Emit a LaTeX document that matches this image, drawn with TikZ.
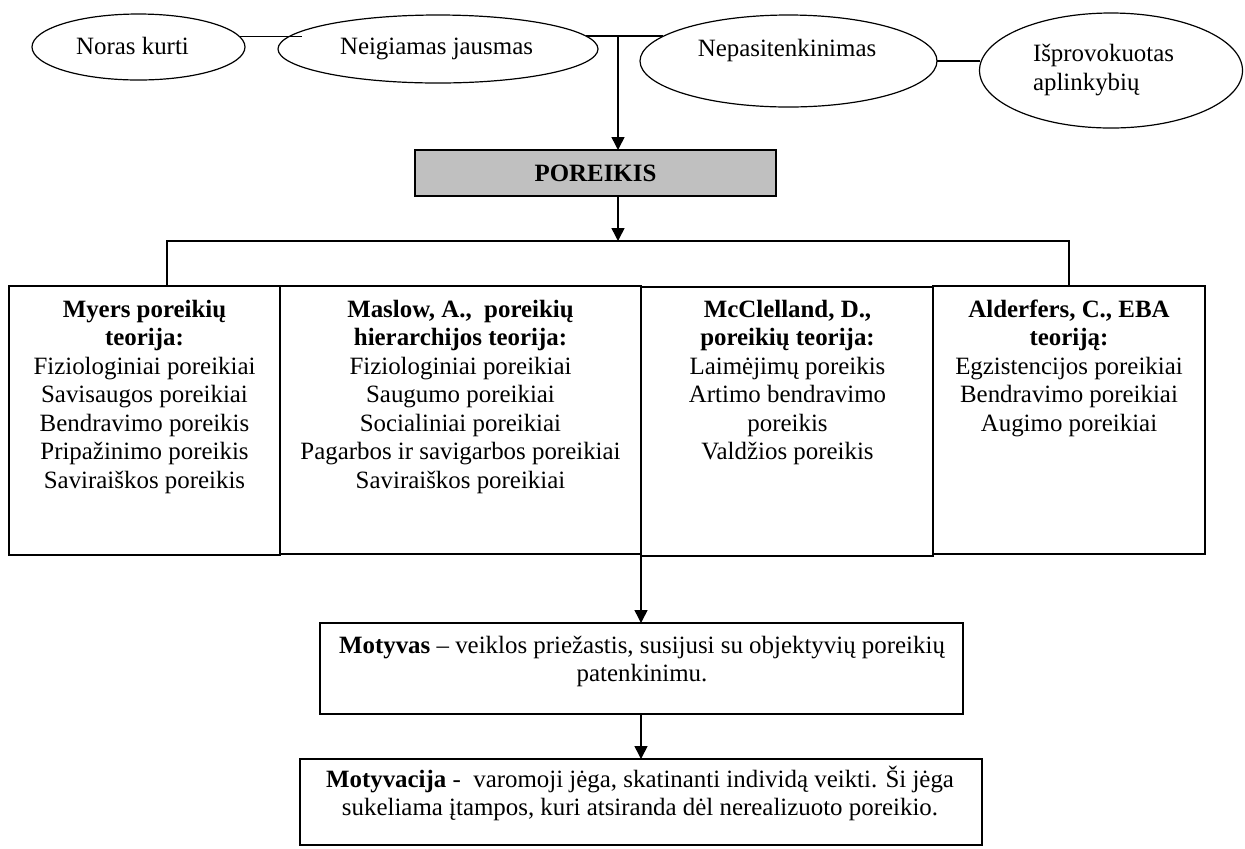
\documentclass[tikz,border=0pt]{standalone}
\usepackage{fontspec}
\setmainfont{Liberation Serif}
\usetikzlibrary{shapes.geometric,arrows.meta}
\definecolor{boxgray}{HTML}{C0C0C0}
\begin{document}
\begin{tikzpicture}[x=0.5pt,y=-0.5pt,
  every node/.style={font=\fontsize{12.45}{14.25}\selectfont, inner sep=0pt, outer sep=0pt},
  ell/.style={draw, ellipse, line width=0.6pt},
  frame/.style={draw, rectangle, line width=0.75pt},
  lbl/.style={align=center, anchor=north},
  conn/.style={line width=0.75pt},
  arr/.style={conn, -{Triangle[length=6.5pt,width=6.5pt]}}]
\useasboundingbox (0,0) rectangle (1245,848);

% ellipses
\node[ell, minimum width=106.5pt, minimum height=33pt] (E1) at (138.5,47) {};
\node[ell, minimum width=160pt, minimum height=34pt] (E2) at (438,49) {};
\node[ell, minimum width=148.5pt, minimum height=46pt] (E3) at (788.5,61) {};
\node[ell, minimum width=131.5pt, minimum height=57.5pt] (E4) at (1111,70.5) {};

\node[anchor=base] (t1) at (132.5,54) {Noras kurti};
\node[anchor=base] (t2) at (436.5,54) {Neigiamas jausmas};
\node[anchor=base] (t3) at (787,56) {Nepasitenkinimas};
\node[anchor=north west, align=left] (t4) at (1033,42) {\strut Išprovokuotas\\aplinkybių};

% poreikis
\node[frame, fill=boxgray, minimum width=180.5pt, minimum height=23pt] (P) at (595.5,173) {\textbf{POREIKIS}};

% theory boxes
\node[frame, minimum width=135.5pt, minimum height=134.5pt] (B1) at (144.5,420.5) {};
\node[frame, minimum width=180.5pt, minimum height=134pt] (B2) at (460.5,420) {};
\node[frame, minimum width=146pt, minimum height=134.5pt] (B3) at (787,421.5) {};
\node[frame, minimum width=136pt, minimum height=134pt] (B4) at (1069,420) {};

\node[lbl] (b1t) at (144.5,297.5) {\strut\textbf{Myers poreikių}\\\textbf{teorija:}\\Fiziologiniai poreikiai\\Savisaugos poreikiai\\Bendravimo poreikis\\Pripažinimo poreikis\\Saviraiškos poreikis};
\node[lbl] (b2t) at (460.5,297.5) {\strut\textbf{Maslow, A., \ poreikių}\\\textbf{hierarchijos teorija:}\\Fiziologiniai poreikiai\\Saugumo poreikiai\\Socialiniai poreikiai\\Pagarbos ir savigarbos poreikiai\\Saviraiškos poreikiai};
\node[lbl] (b3t) at (787.5,297.5) {\strut\textbf{McClelland, D.,}\\\textbf{poreikių teorija:}\\Laimėjimų poreikis\\Artimo bendravimo\\poreikis\\Valdžios poreikis};
\node[lbl] (b4t) at (1069,297.5) {\strut\textbf{Alderfers, C., EBA}\\\textbf{teoriją:}\\Egzistencijos poreikiai\\Bendravimo poreikiai\\Augimo poreikiai};

% motyvas
\node[frame, minimum width=321.5pt, minimum height=45.5pt] (M) at (641.5,668.5) {};
\node[lbl] (mt) at (642,633.5) {\strut\textbf{Motyvas} – veiklos priežastis, susijusi su objektyvių poreikių\\patenkinimu.};

% motyvacija
\node[frame, minimum width=341pt, minimum height=43pt] (V) at (641,802) {};
\node[lbl] (vt) at (640,766) {\strut\textbf{Motyvacija} - \ varomoji jėga, skatinanti individą veikti. Ši jėga\\sukeliama įtampos, kuri atsiranda dėl nerealizuoto poreikio.};

% connectors
\coordinate (j12) at (302,37);
\draw[conn] (E1.6) -- (E1.6 -| j12);
\draw[conn] (E2.5) -- (E2.5 -| E3.169);
\coordinate (jv) at (618,37);
\draw[arr] (jv) -- (jv |- P.north);
\draw[conn] (E3.east) -- (E3.east -| E4.west);

\coordinate (jb) at (618,241);
\draw[arr] (jb |- P.south) -- (jb);
\coordinate (bl) at (167,241);
\coordinate (br) at (1069,241);
\draw[conn] (bl |- B1.north) -- (bl) -- (br) -- (B4.north);

\draw[arr] (B3.south west) -- (B3.south west |- M.north);
\draw[arr] (B3.south west |- M.south) -- (B3.south west |- V.north);
\end{tikzpicture}
\end{document}
